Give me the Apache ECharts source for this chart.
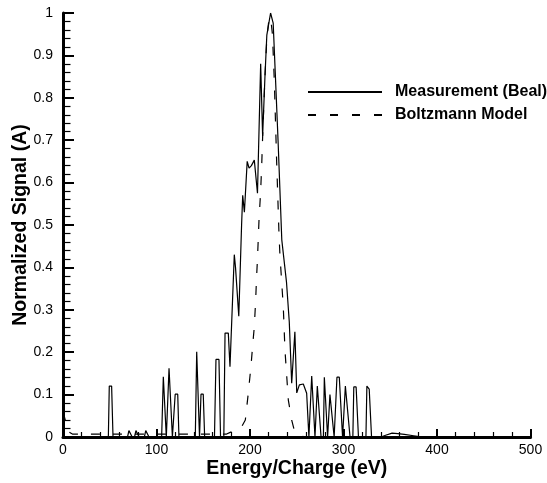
<!DOCTYPE html>
<html>
<head>
<meta charset="utf-8">
<script src="https://cdn.jsdelivr.net/npm/echarts@6/dist/echarts.min.js"></script>
<style>
html,body{margin:0;padding:0;background:#fff;}
#chart{width:547px;height:483px;}
</style>
</head>
<body>
<div id="chart"></div>
<script>
// Energy/Charge (eV) vs normalized signal, measurement (Beal)
const measurement = [
  [0,0],[48.5,0],[49.5,0.12],[52,0.12],[53.5,0],
  [69,0],[70.5,0.015],[72.5,0.015],[74,0],[76.5,0],[78,0.015],[80,0.015],[81.5,0],
  [87,0],[88.5,0.015],[90.5,0.015],[92,0],
  [105.5,0],[107.3,0.142],[109,0.142],[110.5,0],[112,0],[113.4,0.162],[115.5,0.16],[117,0],
  [118.5,0],[120,0.101],[122.7,0.101],[124,0],
  [141.5,0],[143,0.201],[144.7,0.2],[146,0],[146.5,0],[147.6,0.101],[150,0.101],[151.5,0],
  [162,0],[163.6,0.183],[166.8,0.183],[168.5,0],[172,0],[173.3,0.245],[176.8,0.245],[178.6,0.166],
  [183.2,0.43],[184.5,0.4],[188,0.285],[191,0.5],[192.2,0.57],[194,0.53],[197,0.65],[199,0.634],
  [201.5,0.64],[204.6,0.653],[208,0.575],[211.4,0.88],[213.5,0.71],[216,0.85],[218,0.948],
  [219.5,0.945],[222,1.0],[224.8,0.976],[227,0.86],[230,0.7],[234,0.465],[239,0.366],[242,0.272],
  [244.6,0.127],[248,0.248],[250,0.104],[252.8,0.123],[257,0.125],[260.6,0.103],[263,0],
  [265,0],[266,0.144],[268,0.144],[269.5,0],[271,0],[272,0.12],[273.5,0.12],[276,0],
  [278.5,0],[279.5,0.141],[281.5,0.141],[283,0],[284.5,0],[285.5,0.1],[287.5,0.1],[290,0],
  [292,0],[293,0.141],[295.5,0.141],[299,0],[301,0],[302,0.12],[304,0.12],[307,0],
  [310,0],[311,0.118],[313.5,0.118],[316,0],[324,0],[325,0.12],[327.5,0.113],[330,0],
  [340,0],[345,0.004],[352,0.009],[358,0.008],[365,0.006],[375,0.003],[385,0],[500,0]
];
const boltzmann = [
  [0,0.06],[3,0.035],[6,0.012],[10,0.007],[175,0.007],[180,0.012],[185,0.015],[190,0.02],
  [195,0.04],[198,0.1],[201,0.166],[203,0.22],[204.6,0.26],[206,0.32],[207,0.375],[208,0.42],
  [209.6,0.51],[211.4,0.58],[212.5,0.64],[214,0.74],[216,0.85],[218,0.94],[220,0.98],[222,0.99],
  [224,0.95],[226,0.84],[228.5,0.65],[231,0.48],[232,0.43],[235.6,0.307],[237.4,0.205],
  [241,0.087],[244.6,0.04],[248,0.01],[252,0.003],[260,0],[500,0]
];
const seriesNames = ['Measurement (Beal)', 'Boltzmann Model'];
const xTitle = 'Energy/Charge (eV)';
const yTitle = 'Normalized Signal (A)';

const chart = echarts.init(document.getElementById('chart'), null, {renderer:'canvas'});
const font = 'Arial, "Liberation Sans", sans-serif';
chart.setOption({
  animation: false,
  backgroundColor: '#fff',
  grid: {left: 63, right: 16.5, top: 13, bottom: 46, containLabel: false, outerBoundsMode: 'none'},
  legend: {
    orient: 'vertical', left: 307, top: 84, padding: 0,
    itemWidth: 74, itemHeight: 14, itemGap: 7,
    data: [
      {name: seriesNames[0]},
      {name: seriesNames[1], lineStyle: {type: [8, 14]}}
    ],
    itemStyle: {opacity: 0},
    textStyle: {fontFamily: font, fontWeight: 'bold', fontSize: 16, color: '#000', padding: [0,0,0,8]}
  },
  xAxis: {
    type: 'value', min: 0, max: 500, interval: 100,
    name: xTitle, nameLocation: 'middle', nameGap: 22, nameMoveOverlap: false,
    nameTextStyle: {fontFamily: font, fontWeight: 'bold', fontSize: 19.5, color: '#000'},
    axisLine: {lineStyle: {color: '#000', width: 3}},
    axisTick: {inside: true, length: 8, lineStyle: {color: '#000', width: 2}},
    minorTick: {show: true, splitNumber: 5, length: 5, lineStyle: {color: '#000', width: 1.2}},
    axisLabel: {fontFamily: font, fontSize: 14, color: '#000', margin: 6},
    splitLine: {show: false}
  },
  yAxis: {
    type: 'value', min: 0, max: 1, interval: 0.1,
    name: yTitle, nameLocation: 'middle', nameGap: 32, nameMoveOverlap: false,
    nameTextStyle: {fontFamily: font, fontWeight: 'bold', fontSize: 19.5, color: '#000'},
    axisLine: {lineStyle: {color: '#000', width: 3}},
    axisTick: {inside: true, length: 11, lineStyle: {color: '#000', width: 2}},
    minorTick: {show: true, splitNumber: 5, length: 7.5, lineStyle: {color: '#000', width: 1.2}},
    axisLabel: {fontFamily: font, fontSize: 14, color: '#000', margin: 10},
    splitLine: {show: false}
  },
  series: [
    {name: seriesNames[0], type: 'line', data: measurement, symbol: 'none', silent: true,
     lineStyle: {color: '#000', width: 1.2, type: 'solid'}, itemStyle: {color: '#000'}},
    {name: seriesNames[1], type: 'line', data: boltzmann, symbol: 'none', silent: true,
     lineStyle: {color: '#000', width: 1.2, type: [9, 13]}, itemStyle: {color: '#000'}}
  ]
});
</script>
</body>
</html>
